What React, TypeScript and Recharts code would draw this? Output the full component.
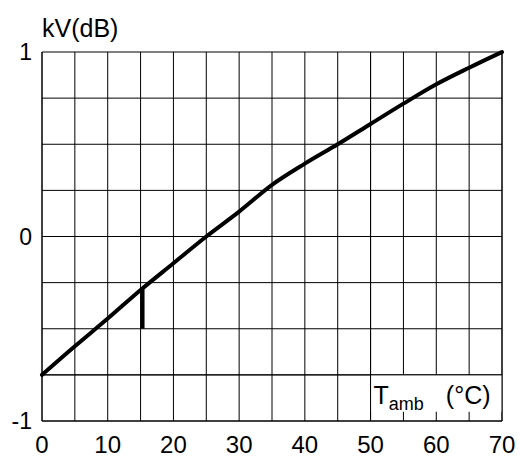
import { LineChart, Line, XAxis, YAxis, CartesianGrid, ReferenceArea, ReferenceLine } from 'recharts'

// kV (dB) versus ambient temperature (°C)
const temps = [0, 5, 10, 15, 20, 25, 30, 35, 40, 45, 50, 55, 60, 65, 70]
const kv = [-0.75, -0.595, -0.445, -0.29, -0.145, 0, 0.135, 0.28, 0.395, 0.5, 0.61, 0.72, 0.825, 0.915, 1]

const xTicks = [0, 5, 10, 15, 20, 25, 30, 35, 40, 45, 50, 55, 60, 65, 70]
const yTicks = [-1, -0.75, -0.5, -0.25, 0, 0.25, 0.5, 0.75, 1]

// short vertical marker under the curve
const markerTemp = [15.3, 15.3]
const markerKv = [-0.28, -0.5]

const curve = temps.map((t, i) => ({ t, kv: kv[i] }))
const marker = markerTemp.map((t, i) => ({ t, kv: markerKv[i] }))

const FONT = '"Liberation Sans", Arial, sans-serif'

const TambLabel = (props: any) => {
  const { x, y } = props.viewBox
  return (
    <text x={x + 3} y={y + 29} fontFamily={FONT} fontSize={25} fill="#000">
      T
      <tspan fontSize={18} dy={6}>amb</tspan>
      <tspan dy={-6} dx={22}>(°C)</tspan>
    </text>
  )
}

export default function App() {
  return (
    <div style={{ position: 'absolute', left: 0, top: 0, width: 521, height: 457, background: '#fff' }}>
      <div
        style={{
          position: 'absolute',
          left: 42,
          top: 14,
          fontFamily: FONT,
          fontSize: 25,
          lineHeight: '29px',
          color: '#000',
        }}
      >
        kV(dB)
      </div>
      <LineChart width={521} height={457} data={curve} margin={{ top: 52, right: 19, bottom: 0, left: 0 }}>
        <CartesianGrid stroke="#000" strokeWidth={1} />
        <XAxis
          dataKey="t"
          type="number"
          domain={[0, 70]}
          ticks={xTicks}
          tickFormatter={(v: number) => (v % 10 === 0 ? String(v) : '')}
          height={36}
          tickLine={false}
          axisLine={{ stroke: '#000' }}
          tickSize={0}
          tickMargin={15}
          tick={{ fill: '#000', fontSize: 24, fontFamily: FONT }}
          interval={0}
        />
        <YAxis
          type="number"
          domain={[-1, 1]}
          ticks={yTicks}
          tickFormatter={(v: number) => (Number.isInteger(v) ? String(v) : '')}
          width={42}
          tickLine={false}
          axisLine={{ stroke: '#000' }}
          tickSize={0}
          tickMargin={10}
          tick={{ fill: '#000', fontSize: 23, fontFamily: FONT }}
          interval={0}
        />
        <ReferenceArea x1={50} x2={70} y1={-0.95} y2={-0.75} fill="#fff" fillOpacity={1} stroke="none" label={<TambLabel />} />
        <ReferenceLine x={50} stroke="#000" />
        <ReferenceLine x={70} stroke="#000" />
        <ReferenceLine y={-0.75} stroke="#000" />
        <Line
          data={marker}
          dataKey="kv"
          type="linear"
          stroke="#000"
          strokeWidth={4}
          dot={false}
          isAnimationActive={false}
        />
        <Line
          data={curve}
          dataKey="kv"
          type="monotone"
          stroke="#000"
          strokeWidth={4}
          strokeLinecap="round"
          dot={false}
          isAnimationActive={false}
        />
      </LineChart>
    </div>
  )
}
